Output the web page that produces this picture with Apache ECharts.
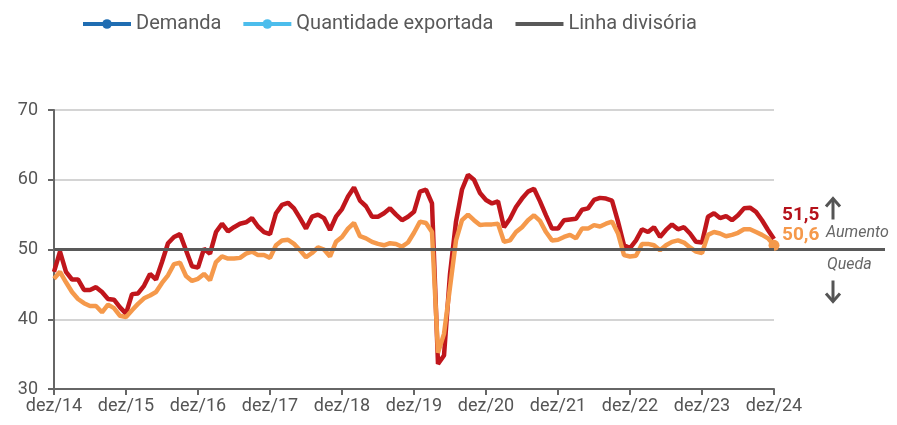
<!DOCTYPE html>
<html>
<head>
<meta charset="UTF-8">
<title>Demanda e quantidade exportada</title>
<style>
html, body { margin: 0; padding: 0; background: #fff; }
#main { width: 897px; height: 425px; }
</style>
</head>
<body>
<div id="main"></div>
<script src="https://cdn.jsdelivr.net/npm/echarts@6/dist/echarts.min.js"></script>
<script>
// meses de dez/14 a dez/24
var meses = ['jan', 'fev', 'mar', 'abr', 'mai', 'jun', 'jul', 'ago', 'set', 'out', 'nov', 'dez'];
var anoInicial = 14;
var anoFinal = 24;

var demanda = [
	46.8, 49.7, 46.8, 45.7, 45.7, 44.2, 44.2, 44.6, 43.9, 42.9, 42.8, 41.7,
	40.8, 43.6, 43.7, 44.8, 46.5, 45.7, 48.2, 50.9, 51.8, 52.2, 49.9, 47.6,
	47.4, 50.1, 49.4, 52.5, 53.7, 52.6, 53.2, 53.7, 53.9, 54.5, 53.3, 52.5,
	52.2, 55.2, 56.4, 56.7, 55.9, 54.5, 53.0, 54.7, 55.0, 54.5, 52.8, 54.7,
	55.8, 57.6, 58.9, 57.0, 56.2, 54.7, 54.7, 55.2, 55.9, 55.0, 54.2, 54.7,
	55.4, 58.3, 58.6, 56.6, 33.6, 34.8, 46.5, 54.0, 58.6, 60.7, 60.0, 58.1,
	57.1, 56.6, 56.9, 53.2, 54.4, 56.1, 57.3, 58.3, 58.7, 56.9, 54.9, 53.0,
	53.0, 54.2, 54.3, 54.4, 55.7, 55.9, 57.1, 57.4, 57.3, 57.0, 54.0, 50.6,
	50.2, 51.3, 52.9, 52.5, 53.2, 51.8, 52.8, 53.6, 52.9, 53.2, 52.3, 51.1,
	51.0, 54.7, 55.2, 54.5, 54.8, 54.2, 54.9, 55.9, 56.0, 55.4, 54.2, 52.8,
	51.5
];

var exportada = [
	45.8, 46.8, 45.3, 43.9, 42.9, 42.3, 41.9, 41.9, 41.0, 42.1, 41.6, 40.5,
	40.3, 41.3, 42.2, 43.0, 43.4, 43.9, 45.2, 46.3, 47.9, 48.1, 46.2, 45.5,
	45.8, 46.5, 45.6, 48.2, 49.0, 48.7, 48.7, 48.8, 49.4, 49.7, 49.2, 49.2,
	48.8, 50.6, 51.3, 51.4, 50.8, 49.9, 48.9, 49.5, 50.3, 50.0, 49.0, 51.1,
	51.8, 53.0, 53.8, 51.9, 51.6, 51.1, 50.8, 50.6, 50.9, 50.8, 50.4, 51.0,
	52.4, 54.0, 53.8, 52.5, 35.2, 37.9, 44.6, 51.3, 54.2, 55.0, 54.2, 53.5,
	53.6, 53.6, 53.7, 51.1, 51.3, 52.5, 53.2, 54.2, 54.9, 54.1, 52.5, 51.3,
	51.4, 51.8, 52.1, 51.6, 53.0, 53.0, 53.5, 53.3, 53.7, 54.0, 52.3, 49.2,
	49.0, 49.1, 50.8, 50.8, 50.6, 49.9, 50.6, 51.1, 51.3, 51.0, 50.3, 49.7,
	49.5, 52.1, 52.5, 52.3, 51.9, 52.1, 52.4, 52.9, 52.9, 52.5, 52.1, 51.6,
	50.6
];

var linhaDivisoria = 50;

var categorias = ['dez/' + anoInicial];
for (var a = anoInicial + 1; a <= anoFinal; a++) {
	for (var m = 0; m < 12; m++) {
		categorias.push(meses[m] + '/' + a);
	}
}

function virgula(params) {
	return params.value.toFixed(1).replace('.', ',');
}

var fonte = 'Roboto, "Noto Sans", sans-serif';
var ultimo = exportada.length - 1;

var myChart = echarts.init(document.getElementById('main'));
var option = {
	animation: false,
	textStyle: { fontFamily: fonte },
	legend: {
		left: 76,
		top: 9,
		itemWidth: 48,
		itemHeight: 12,
		itemGap: 20,
		textStyle: { fontSize: 20, color: '#595959', fontFamily: fonte },
		data: [
			{ name: 'Demanda', itemStyle: { color: '#1f6db2' }, lineStyle: { color: '#1f6db2', width: 4 } },
			{ name: 'Quantidade exportada', itemStyle: { color: '#4cbdec' }, lineStyle: { color: '#4cbdec', width: 4 } },
			{ name: 'Linha divisória', itemStyle: { color: 'transparent', borderWidth: 0 }, lineStyle: { color: '#595959', width: 4 } }
		]
	},
	grid: {
		left: 54,
		right: 123,
		top: 110,
		bottom: 36
	},
	xAxis: {
		type: 'category',
		boundaryGap: false,
		data: categorias,
		axisLine: { lineStyle: { color: '#666', width: 2 } },
		axisTick: { interval: 11, length: 6, lineStyle: { color: '#666', width: 2 } },
		axisLabel: { interval: 11, fontSize: 18, color: '#555', margin: 8 }
	},
	yAxis: {
		type: 'value',
		min: 30,
		max: 70,
		interval: 10,
		axisLine: { show: true, lineStyle: { color: '#666', width: 2 } },
		axisTick: { show: true, length: 6, lineStyle: { color: '#666', width: 2 } },
		axisLabel: { fontSize: 18, color: '#555', margin: 16 },
		splitLine: { lineStyle: { color: '#d4d4d4', width: 2 } }
	},
	series: [{
		name: 'Linha divisória',
		type: 'line',
		symbol: 'none',
		data: [],
		lineStyle: { color: '#595959', width: 3 },
		itemStyle: { color: '#595959' },
		markLine: {
			silent: true,
			symbol: ['none', 'none'],
			label: { show: false },
			lineStyle: { color: '#595959', width: 3, type: 'solid' },
			data: [{ yAxis: linhaDivisoria }]
		}
	}, {
		name: 'Demanda',
		type: 'line',
		data: demanda,
		symbol: 'circle',
		symbolSize: 0,
		showSymbol: false,
		lineStyle: { color: '#c0161c', width: 4.5 },
		itemStyle: { color: '#c0161c' },
		endLabel: {
			show: true,
			formatter: virgula,
			color: '#b5121b',
			fontSize: 19,
			fontWeight: 'bold',
			distance: 8,
			offset: [0, -24]
		}
	}, {
		name: 'Quantidade exportada',
		type: 'line',
		data: exportada,
		symbol: 'circle',
		showAllSymbol: true,
		symbolSize: function (v, params) {
			return params.dataIndex === ultimo ? 11 : 0;
		},
		lineStyle: { color: '#f5994b', width: 4.5 },
		itemStyle: { color: '#f5994b' },
		endLabel: {
			show: true,
			formatter: virgula,
			color: '#f5994b',
			fontSize: 19,
			fontWeight: 'bold',
			distance: 8,
			offset: [0, -10]
		}
	}]
};
myChart.setOption(option);

// prolongamento da linha divisória e marcações Aumento / Queda
var pFim = myChart.convertToPixel({ xAxisIndex: 0, yAxisIndex: 0 }, [ultimo, linhaDivisoria]);
var y0 = pFim[1];
myChart.setOption({
	graphic: [
		{ type: 'line', shape: { x1: pFim[0], y1: y0, x2: 885, y2: y0 }, style: { stroke: '#595959', lineWidth: 3 } },
		{ type: 'text', left: 826, top: y0 - 25, style: { text: 'Aumento', font: 'italic 16px ' + fonte, fill: '#666' } },
		{ type: 'text', left: 827, top: y0 + 7, style: { text: 'Queda', font: 'italic 16px ' + fonte, fill: '#666' } },
		{ type: 'polyline', shape: { points: [[833, y0 - 30], [833, y0 - 51]] }, style: { stroke: '#555', lineWidth: 3 } },
		{ type: 'polyline', shape: { points: [[826, y0 - 43], [833, y0 - 51], [840, y0 - 43]] }, style: { stroke: '#555', lineWidth: 3, fill: null } },
		{ type: 'polyline', shape: { points: [[833, y0 + 31], [833, y0 + 52]] }, style: { stroke: '#555', lineWidth: 3 } },
		{ type: 'polyline', shape: { points: [[826, y0 + 44], [833, y0 + 52], [840, y0 + 44]] }, style: { stroke: '#555', lineWidth: 3, fill: null } }
	]
});
</script>
</body>
</html>
